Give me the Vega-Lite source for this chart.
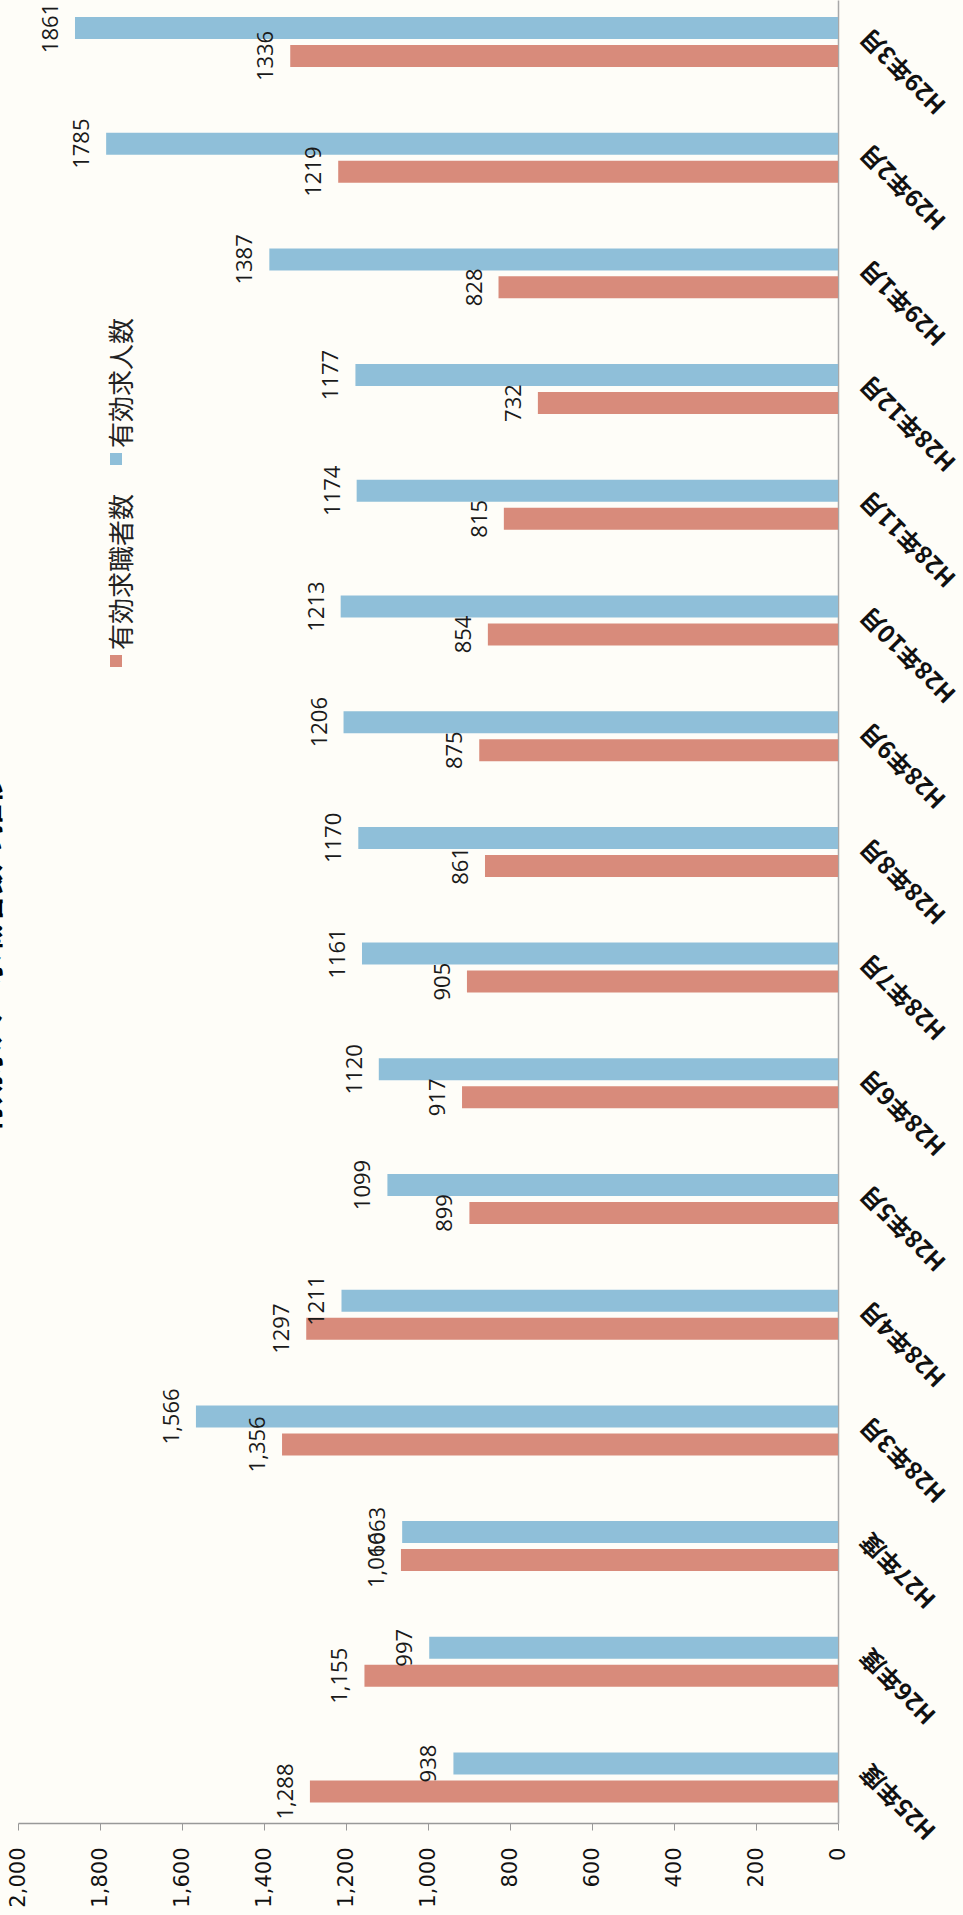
{
  "$schema": "https://vega.github.io/schema/vega-lite/v6.json",
  "width": 820,
  "height": 1823,
  "autosize": {"type": "none"},
  "padding": {"left": 18, "top": 0, "right": 125, "bottom": 92},
  "background": "#FEFDF8",
  "title": {
    "text": "有効求人・求職者数の推移",
    "orient": "left",
    "anchor": "middle",
    "frame": "group",
    "offset": 2,
    "dx": -43,
    "font": "Noto Sans CJK JP",
    "fontSize": 30,
    "fontWeight": "bold",
    "color": "#000000"
  },
  "data": {
    "values": [
      {"cat": "H25年度", "series": "有効求職者数", "value": 1288, "label": "1,288"},
      {"cat": "H25年度", "series": "有効求人数", "value": 938, "label": "938"},
      {"cat": "H26年度", "series": "有効求職者数", "value": 1155, "label": "1,155"},
      {"cat": "H26年度", "series": "有効求人数", "value": 997, "label": "997"},
      {"cat": "H27年度", "series": "有効求職者数", "value": 1066, "label": "1,066"},
      {"cat": "H27年度", "series": "有効求人数", "value": 1063, "label": "1063"},
      {"cat": "H28年3月", "series": "有効求職者数", "value": 1356, "label": "1,356"},
      {"cat": "H28年3月", "series": "有効求人数", "value": 1566, "label": "1,566"},
      {"cat": "H28年4月", "series": "有効求職者数", "value": 1297, "label": "1297"},
      {"cat": "H28年4月", "series": "有効求人数", "value": 1211, "label": "1211"},
      {"cat": "H28年5月", "series": "有効求職者数", "value": 899, "label": "899"},
      {"cat": "H28年5月", "series": "有効求人数", "value": 1099, "label": "1099"},
      {"cat": "H28年6月", "series": "有効求職者数", "value": 917, "label": "917"},
      {"cat": "H28年6月", "series": "有効求人数", "value": 1120, "label": "1120"},
      {"cat": "H28年7月", "series": "有効求職者数", "value": 905, "label": "905"},
      {"cat": "H28年7月", "series": "有効求人数", "value": 1161, "label": "1161"},
      {"cat": "H28年8月", "series": "有効求職者数", "value": 861, "label": "861"},
      {"cat": "H28年8月", "series": "有効求人数", "value": 1170, "label": "1170"},
      {"cat": "H28年9月", "series": "有効求職者数", "value": 875, "label": "875"},
      {"cat": "H28年9月", "series": "有効求人数", "value": 1206, "label": "1206"},
      {"cat": "H28年10月", "series": "有効求職者数", "value": 854, "label": "854"},
      {"cat": "H28年10月", "series": "有効求人数", "value": 1213, "label": "1213"},
      {"cat": "H28年11月", "series": "有効求職者数", "value": 815, "label": "815"},
      {"cat": "H28年11月", "series": "有効求人数", "value": 1174, "label": "1174"},
      {"cat": "H28年12月", "series": "有効求職者数", "value": 732, "label": "732"},
      {"cat": "H28年12月", "series": "有効求人数", "value": 1177, "label": "1177"},
      {"cat": "H29年1月", "series": "有効求職者数", "value": 828, "label": "828"},
      {"cat": "H29年1月", "series": "有効求人数", "value": 1387, "label": "1387"},
      {"cat": "H29年2月", "series": "有効求職者数", "value": 1219, "label": "1219"},
      {"cat": "H29年2月", "series": "有効求人数", "value": 1785, "label": "1785"},
      {"cat": "H29年3月", "series": "有効求職者数", "value": 1336, "label": "1336"},
      {"cat": "H29年3月", "series": "有効求人数", "value": 1861, "label": "1861"}
    ]
  },
  "encoding": {
    "y": {
      "field": "cat",
      "type": "nominal",
      "sort": ["H29年3月", "H29年2月", "H29年1月", "H28年12月", "H28年11月", "H28年10月", "H28年9月", "H28年8月", "H28年7月", "H28年6月", "H28年5月", "H28年4月", "H28年3月", "H27年度", "H26年度", "H25年度"],
      "scale": {"paddingInner": 0.568, "paddingOuter": 0.162, "align": 0.453},
      "axis": {
        "orient": "right",
        "title": null,
        "ticks": false,
        "labelAngle": 225,
        "labelAlign": "right",
        "labelBaseline": "middle",
        "labelFont": "Noto Sans CJK JP",
        "labelFontSize": 24,
        "labelFontWeight": "bold",
        "labelColor": "#111111",
        "labelPadding": 27,
        "labelOffset": -10,
        "labelLimit": 0,
        "labelOverlap": false,
        "domainColor": "#A8A8A8",
        "domainWidth": 1.5
      }
    },
    "yOffset": {
      "field": "series",
      "type": "nominal",
      "sort": ["有効求人数", "有効求職者数"],
      "scale": {"paddingInner": 0.214, "paddingOuter": 0}
    },
    "x": {
      "field": "value",
      "type": "quantitative",
      "scale": {"domain": [0, 2000], "reverse": true, "nice": false},
      "axis": {
        "orient": "bottom",
        "title": null,
        "values": [0, 200, 400, 600, 800, 1000, 1200, 1400, 1600, 1800, 2000],
        "format": ",.0f",
        "grid": false,
        "labelAngle": 270,
        "labelAlign": "right",
        "labelBaseline": "middle",
        "labelFont": "DejaVu Sans",
        "labelFontSize": 21,
        "labelColor": "#111111",
        "labelPadding": 17,
        "labelOverlap": false,
        "labelFlush": false,
        "tickSize": 7,
        "tickColor": "#999999",
        "domainColor": "#999999",
        "domainWidth": 1.5
      }
    }
  },
  "layer": [
    {
      "mark": {"type": "bar"},
      "encoding": {
        "color": {
          "field": "series",
          "type": "nominal",
          "scale": {"domain": ["有効求人数", "有効求職者数"], "range": ["#8FBFD9", "#D88B7B"]},
          "legend": {
            "orient": "none",
            "legendX": 85,
            "legendY": 446,
            "direction": "vertical",
            "title": null,
            "padding": 0,
            "symbolType": "square",
            "symbolSize": 144,
            "symbolStrokeWidth": 0,
            "symbolOpacity": 1,
            "labelFont": "Noto Sans CJK JP",
            "labelFontSize": 26,
            "labelColor": "#222222",
            "labelLimit": 0,
            "labelOffset": -6,
            "rowPadding": 28,
            "encoding": {
              "labels": {
                "angle": {"value": 270},
                "align": {"value": "left"},
                "baseline": {"value": "middle"},
                "dx": {"value": 11}
              }
            }
          }
        }
      }
    },
    {
      "mark": {
        "type": "text",
        "angle": 270,
        "align": "center",
        "baseline": "alphabetic",
        "dy": -17,
        "font": "Open Sans",
        "fontSize": 22,
        "color": "#1A1A1A"
      },
      "encoding": {
        "text": {"field": "label", "type": "nominal"}
      }
    }
  ],
  "config": {
    "view": {"stroke": null},
    "axis": {"labelFontWeight": "normal"}
  }
}
